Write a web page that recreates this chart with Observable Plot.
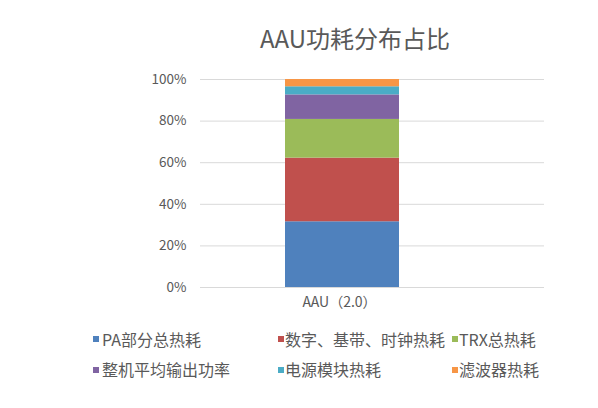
<!DOCTYPE html>
<html><head><meta charset="utf-8">
<script src="https://cdn.jsdelivr.net/npm/d3@7"></script>
<script src="https://cdn.jsdelivr.net/npm/@observablehq/plot@0.6"></script>
<style>
body{margin:0;background:#fff;font-family:"Noto Sans CJK SC","Noto Sans",sans-serif;}
#wrap{position:relative;width:598px;height:408px;overflow:hidden;background:#fff}
#title{position:absolute;left:0;width:710px;text-align:center;top:21px;font-size:24px;line-height:34px;color:#595959}
#chart{position:absolute;left:0;top:0}
.sw{position:absolute;width:6px;height:6px}
.lt{position:absolute;font-size:16px;line-height:20px;color:#595959;white-space:nowrap}
</style>
</head><body>
<div id="wrap"><div id="title">AAU功耗分布占比</div><div id="chart"></div></div>
<script>
const category = ["AAU（2.0）"];
const series = ["PA部分总热耗","数字、基带、时钟热耗","TRX总热耗","整机平均输出功率","电源模块热耗","滤波器热耗"];
const shares = [31.6, 30.6, 18.6, 11.8, 3.9, 3.5];
const colors = ["#4f81bd","#c0504d","#9bbb59","#8064a2","#4bacc6","#f79646"];
const yTicks = [0, 20, 40, 60, 80, 100];

const data = series.map((s, i) => ({category: category[0], series: s, share: shares[i]}));
const font = '"Noto Sans CJK SC","Noto Sans",sans-serif';

const chart = Plot.plot({
  width: 598, height: 310,
  marginLeft: 200, marginRight: 54, marginTop: 79, marginBottom: 23,
  style: {fontFamily: font, fontSize: "13px", color: "#595959", background: "transparent"},
  x: {type: "band", domain: category, range: [285, 399], padding: 0, axis: null},
  y: {domain: [0, 100], axis: null},
  color: {domain: series, range: colors},
  marks: [
    Plot.ruleY(yTicks, {stroke: "#d9d9d9", strokeWidth: 1}),
    Plot.barY(data, {x: "category", y: "share", fill: "series"}),
    Plot.axisY(yTicks, {tickSize: 0, tickPadding: 14, tickFormat: d => d + "%", fontSize: 13.5, label: null}),
    Plot.axisX(category, {tickSize: 0, tickPadding: 10, fontSize: 14, dx: -3, label: null})
  ]
});
document.getElementById("chart").appendChild(chart);

// legend (3 columns x 2 rows)
const wrap = document.getElementById("wrap");
const swX = [93, 278, 452];
const txX = [102, 285, 459];
const rowY = [339, 369.5];
series.forEach((s, i) => {
  const c = i % 3, r = Math.floor(i / 3);
  const sw = document.createElement("div");
  sw.className = "sw";
  sw.style.left = swX[c] + "px";
  sw.style.top = (rowY[r] - 3) + "px";
  sw.style.background = colors[i];
  wrap.appendChild(sw);
  const t = document.createElement("div");
  t.className = "lt";
  t.textContent = s;
  t.style.left = txX[c] + "px";
  t.style.top = (rowY[r] - 10.5) + "px";
  wrap.appendChild(t);
});
</script>
</body></html>
